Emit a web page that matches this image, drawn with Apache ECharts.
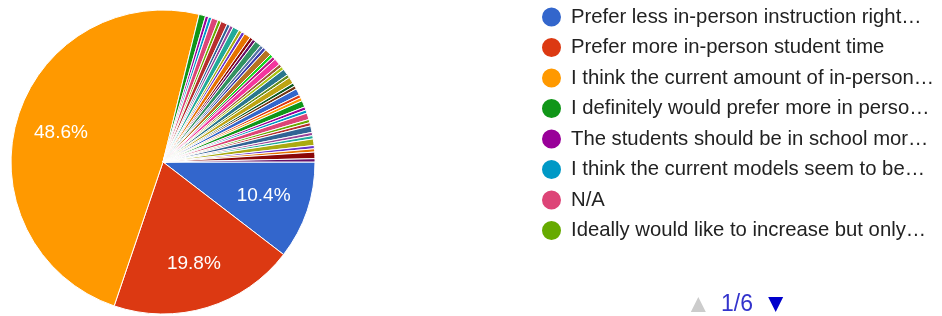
<!DOCTYPE html>
<html>
<head>
<meta charset="UTF-8">
<title>Pie chart</title>
<script src="https://cdn.jsdelivr.net/npm/echarts@6/dist/echarts.min.js"></script>
<style>
  html, body { margin: 0; padding: 0; background: #fff; }
  #chart { width: 942px; height: 316px; }
</style>
</head>
<body>
<div id="chart"></div>
<script>
// answers as shown in the legend (long ones are cut off in the picture)
const labels = [
  'Prefer less in-person instruction right\u2026',
  'Prefer more in-person student time',
  'I think the current amount of in-person\u2026',
  'I definitely would prefer more in perso\u2026',
  'The students should be in school mor\u2026',
  'I think the current models seem to be\u2026',
  'N/A',
  'Ideally would like to increase but only\u2026'
];
// response counts: 3 big answers, then the thin slices
const mainCounts = [30, 57, 140];
const otherCounts = [
  2, 1, 1, 2, 1, 2, 1, 1, 2, 1,
  1, 2, 1, 1, 2, 1, 1, 2, 1, 1,
  2, 1, 1, 2, 1, 2, 1, 1, 2, 1,
  1, 2, 1, 1, 2, 1, 1, 2, 1, 1,
  2, 1, 1, 2, 1
];

const palette = ['#3366cc', '#dc3912', '#ff9900', '#109618', '#990099', '#0099c6', '#dd4477', '#66aa00',
  '#b82e2e', '#316395', '#994499', '#22aa99', '#aaaa11', '#6633cc', '#e67300', '#8b0707',
  '#651067', '#329262', '#5574a6', '#3b3eac', '#b77322', '#16d620', '#b91383', '#f4359e',
  '#9c5935', '#a9c413', '#2a778d', '#668d1c', '#bea413', '#0c5922', '#743411'];

const counts = mainCounts.concat(otherCounts);
const data = counts.map((v, i) => ({
  name: labels[i] || ('Response ' + (i + 1)),
  value: v
}));

const cx = 163, cy = 162;
const chart = echarts.init(document.getElementById('chart'));
chart.setOption({
  color: palette,
  animation: false,
  textStyle: { fontFamily: 'Arial, "Liberation Sans", sans-serif' },
  legend: {
    type: 'scroll',
    orient: 'vertical',
    left: 540,
    top: 5.5,
    bottom: 0,
    padding: 0,
    icon: 'circle',
    itemWidth: 21,
    itemHeight: 21,
    itemGap: 7.5,
    textStyle: { fontSize: 20.3, color: '#222', padding: [0, 0, 0, 4] },
    pageButtonItemGap: 5,
    pageButtonGap: 43.5,
    pageIconSize: [18, 15],
    pageIconColor: '#0000cc',
    pageIconInactiveColor: '#cccccc',
    pageTextStyle: { color: '#3333cc', fontSize: 23 },
    pageFormatter: '{current}/{total}'
  },
  series: [{
    type: 'pie',
    center: [cx, cy],
    radius: 152,
    startAngle: 0,
    clockwise: true,
    percentPrecision: 1,
    minShowLabelAngle: 10,
    itemStyle: { borderColor: '#fff', borderWidth: 1 },
    label: {
      position: 'inside',
      formatter: '{d}%',
      color: '#fff',
      fontSize: 19
    },
    labelLine: { show: false },
    labelLayout: function (p) {
      const r = p.labelRect;
      const lx = r.x + r.width / 2, ly = r.y + r.height / 2;
      const k = 1.345;
      return { x: cx + (lx - cx) * k, y: cy + (ly - cy) * k };
    },
    emphasis: { disabled: true },
    data: data
  }]
});
</script>
</body>
</html>
